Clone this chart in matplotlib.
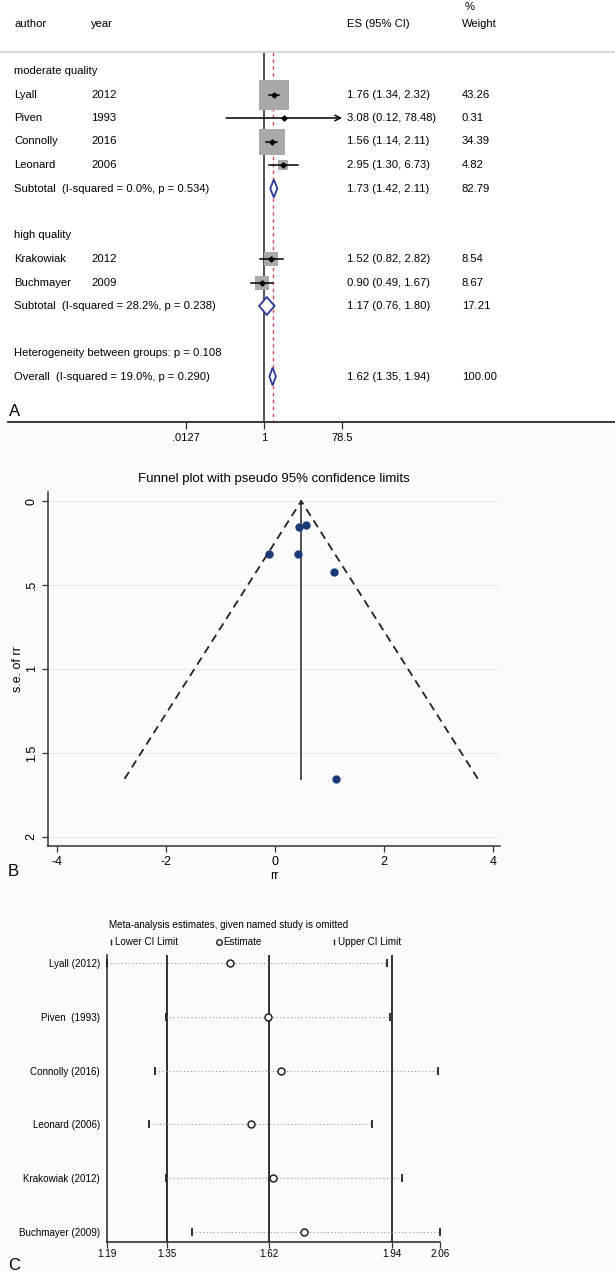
import numpy as np
import matplotlib
matplotlib.use("Agg")
import matplotlib.pyplot as plt
from matplotlib.patches import Polygon
from matplotlib.lines import Line2D
from matplotlib import font_manager

# ---- data: forest plot (A) ----
authors = ["Lyall", "Piven", "Connolly", "Leonard", "Krakowiak", "Buchmayer"]
years = [2012, 1993, 2016, 2006, 2012, 2009]
es = [1.76, 3.08, 1.56, 2.95, 1.52, 0.90]
ci_lo = [1.34, 0.12, 1.14, 1.30, 0.82, 0.49]
ci_hi = [2.32, 78.48, 2.11, 6.73, 2.82, 1.67]
weights = [43.26, 0.31, 34.39, 4.82, 8.54, 8.67]
study_group = [0, 0, 0, 0, 1, 1]

group_names = ["moderate quality", "high quality"]
sub_es = [1.73, 1.17]
sub_lo = [1.42, 0.76]
sub_hi = [2.11, 1.80]
sub_wt = [82.79, 17.21]
sub_i2 = ["0.0%", "28.2%"]
sub_p = ["0.534", "0.238"]

overall_es, overall_lo, overall_hi = 1.62, 1.35, 1.94
overall_i2, overall_p, het_p = "19.0%", "0.290", "0.108"
forest_ticks = [0.0127, 1, 78.5]
forest_ticklabels = [".0127", "1", "78.5"]

# ---- data: funnel plot (B), log rr and s.e. ----
funnel_rr = [0.565, 1.125, 0.445, 1.082, 0.419, -0.105]
funnel_se = [0.140, 1.654, 0.157, 0.420, 0.315, 0.313]
funnel_center = 0.482

# ---- data: leave-one-out (C) ----
omit_labels = ["Lyall (2012)", "Piven  (1993)", "Connolly (2016)",
               "Leonard (2006)", "Krakowiak (2012)", "Buchmayer (2009)"]
omit_est = [1.515, 1.613, 1.646, 1.568, 1.626, 1.708]
omit_lo = [1.192, 1.346, 1.317, 1.303, 1.346, 1.414]
omit_hi = [1.925, 1.933, 2.057, 1.886, 1.963, 2.063]
loo_lo, loo_est, loo_hi = 1.349, 1.616, 1.937

W, H = 615, 1272
bg = "#fbfcfd"
plt.rcParams["font.family"] = ["Liberation Sans", "DejaVu Sans"]
names = {f.name for f in font_manager.fontManager.ttflist}
narrow = "Liberation Sans Narrow" if "Liberation Sans Narrow" in names else "Liberation Sans"
cfs = 8 if narrow == "Liberation Sans Narrow" else 7.1   # panel C text size

fig = plt.figure(figsize=(W / 100, H / 100), dpi=100, facecolor=bg)


def fx(px):
    return px / W


def fy(py):
    return 1 - py / H


# =================== A: forest plot ===================
axA = fig.add_axes([0, fy(422), 1, 422 / H])
axA.set_facecolor("white")
row0, rowh = 47.5, 23.5          # pixel y of row 0, pixel row height
x0, xscale = 264, 17.9           # pixel x of ES=1, pixels per ln unit
axA.set_xlim(-x0 / xscale, (W - x0) / xscale)
axA.set_ylim((422 - row0) / rowh, (0 - row0) / rowh)
for s in ["top", "left", "right"]:
    axA.spines[s].set_visible(False)
axA.spines["bottom"].set_color("#2a2a2a")
axA.spines["bottom"].set_linewidth(1.3)
axA.spines["bottom"].set_bounds(-(x0 - 8) / xscale, (W - x0) / xscale)
axA.set_yticks([])
axA.set_xticks(np.log(forest_ticks))
axA.set_xticklabels(forest_ticklabels, fontsize=8)
axA.tick_params(axis="x", length=5, width=0.9, pad=3, color="#2a2a2a")

tr = axA.get_yaxis_transform()
fs = 8.1
line_row = (52 - row0) / rowh
axA.axhline(line_row, color="#c9d5dd", lw=1.2)
ybot = (422 - row0) / rowh
axA.vlines(0, line_row, ybot, color="#222222", lw=1.1, zorder=1)
axA.vlines(np.log(overall_es), line_row, ybot, color="#d9485a", lw=1.0,
           linestyles=(0, (2.5, 2.5)), zorder=1)

# header
axA.text(fx(14), -1, "author", transform=tr, fontsize=fs, va="center")
axA.text(fx(91), -1, "year", transform=tr, fontsize=fs, va="center")
axA.text(fx(347), -1, "ES (95% CI)", transform=tr, fontsize=fs, va="center")
axA.text(fx(462), -1, "Weight", transform=tr, fontsize=fs, va="center")
axA.text(fx(465), -1.72, "%", transform=tr, fontsize=fs, va="center")


def diamond(ax, e, l, h, r):
    pts = [(np.log(l), r), (np.log(e), r - 0.38), (np.log(h), r), (np.log(e), r + 0.38)]
    ax.add_patch(Polygon(pts, closed=True, facecolor="white", edgecolor="#2b3a9a",
                         lw=1.3, zorder=4))


row = 1
for g in range(len(group_names)):
    axA.text(fx(14), row, group_names[g], transform=tr, fontsize=fs, va="center")
    row += 1
    for i in [k for k in range(len(authors)) if study_group[k] == g]:
        side = 4.6 * np.sqrt(weights[i]) * 0.72
        axA.scatter(np.log(es[i]), row, marker="s", s=side ** 2, color="#a9a9a9",
                    linewidths=0, zorder=2)
        lo, hi = np.log(ci_lo[i]), np.log(ci_hi[i])
        if ci_hi[i] >= forest_ticks[-1] * 0.99:
            axA.annotate("", xy=(hi, row), xytext=(lo, row),
                         arrowprops=dict(arrowstyle="->", lw=1.1, color="black",
                                         shrinkA=0, shrinkB=0), zorder=3)
        else:
            axA.plot([lo, hi], [row, row], color="black", lw=1.1, zorder=3)
        axA.plot(np.log(es[i]), row, marker="D", ms=2.6, color="black", zorder=3)
        axA.text(fx(14), row, authors[i], transform=tr, fontsize=fs, va="center")
        axA.text(fx(91), row, str(years[i]), transform=tr, fontsize=fs, va="center")
        axA.text(fx(347), row, f"{es[i]:.2f} ({ci_lo[i]:.2f}, {ci_hi[i]:.2f})",
                 transform=tr, fontsize=fs, va="center")
        axA.text(fx(462), row, f"{weights[i]:.2f}", transform=tr, fontsize=fs, va="center")
        row += 1
    diamond(axA, sub_es[g], sub_lo[g], sub_hi[g], row)
    axA.text(fx(14), row, f"Subtotal  (I-squared = {sub_i2[g]}, p = {sub_p[g]})",
             transform=tr, fontsize=fs, va="center")
    axA.text(fx(347), row, f"{sub_es[g]:.2f} ({sub_lo[g]:.2f}, {sub_hi[g]:.2f})",
             transform=tr, fontsize=fs, va="center")
    axA.text(fx(462), row, f"{sub_wt[g]:.2f}", transform=tr, fontsize=fs, va="center")
    row += 2

axA.text(fx(14), row, f"Heterogeneity between groups: p = {het_p}", transform=tr,
         fontsize=fs, va="center")
row += 1
diamond(axA, overall_es, overall_lo, overall_hi, row)
axA.text(fx(14), row, f"Overall  (I-squared = {overall_i2}, p = {overall_p})",
         transform=tr, fontsize=fs, va="center")
axA.text(fx(347), row, f"{overall_es:.2f} ({overall_lo:.2f}, {overall_hi:.2f})",
         transform=tr, fontsize=fs, va="center")
axA.text(fx(462), row, "100.00", transform=tr, fontsize=fs, va="center")
fig.text(fx(9), fy(412), "A", fontsize=12, va="center")

# =================== B: funnel plot ===================
axB = fig.add_axes([fx(48), fy(846), 452 / W, 354 / H])
axB.set_facecolor(bg)
axB.set_xlim(-4.165, 4.13)
axB.set_ylim(2.054, -0.054)
for s in ["top", "right"]:
    axB.spines[s].set_visible(False)
for s in ["left", "bottom"]:
    axB.spines[s].set_color("#333333")
    axB.spines[s].set_linewidth(1.1)
axB.set_yticks([0, 0.5, 1, 1.5, 2])
axB.set_yticklabels(["0", ".5", "1", "1.5", "2"], rotation=90, va="center", fontsize=9)
axB.set_xticks([-4, -2, 0, 2, 4])
axB.set_xticklabels(["-4", "-2", "0", "2", "4"], fontsize=9)
axB.tick_params(length=4, width=0.9, color="#333333")
axB.grid(axis="y", color="#e4edf2", lw=0.8)
axB.set_axisbelow(True)

se_max = max(funnel_se)
axB.plot([funnel_center, funnel_center], [0, se_max], color="#333333", lw=1.2)
axB.plot([funnel_center - 1.96 * se_max, funnel_center, funnel_center + 1.96 * se_max],
         [se_max, 0, se_max], color="#222222", lw=1.3, linestyle=(0, (4.5, 3)))
axB.scatter(funnel_rr, funnel_se, s=36, color="#1d3a78", zorder=3, linewidths=0)
axB.set_ylabel("s.e. of rr", fontsize=9, labelpad=1)
axB.set_xlabel("rr", fontsize=9, labelpad=1)
fig.text(fx(274), fy(479), "Funnel plot with pseudo 95% confidence limits",
         fontsize=9.5, ha="center", va="center")
fig.text(fx(8), fy(872), "B", fontsize=12, va="center")

# =================== C: influence analysis ===================
axC = fig.add_axes([fx(107), fy(1242), 333 / W, 287 / H])
axC.set_facecolor(bg)
n = len(omit_labels)
rows = np.arange(n)
axC.set_xlim(min(omit_lo), max(omit_hi))
axC.set_ylim(n - 1 + 10 / 53.8, -8 / 53.8)
for s in ["top", "right"]:
    axC.spines[s].set_visible(False)
for s in ["left", "bottom"]:
    axC.spines[s].set_color("#333333")
    axC.spines[s].set_linewidth(1.2)
for v in [loo_lo, loo_est, loo_hi]:
    axC.axvline(v, color="#222222", lw=1.3)
for i in rows:
    axC.plot([omit_lo[i], omit_hi[i]], [i, i], color="#8a9aa8", lw=0.8,
             linestyle=(0, (1, 2.2)), zorder=2)
axC.plot(omit_lo, rows, "|", color="#222222", ms=6, mew=1.3, clip_on=False, zorder=3)
axC.plot(omit_hi, rows, "|", color="#222222", ms=6, mew=1.3, clip_on=False, zorder=3)
axC.plot(omit_est, rows, "o", mfc="white", mec="#222222", ms=5, mew=1.1, zorder=4)
axC.set_yticks(rows)
axC.set_yticklabels(omit_labels, fontsize=cfs, family=narrow)
axC.tick_params(axis="y", length=0, pad=5)
xt = [min(omit_lo), loo_lo, loo_est, loo_hi, max(omit_hi)]
axC.set_xticks(xt)
axC.set_xticklabels([f"{v:.2f}" for v in xt], fontsize=cfs, family=narrow)
axC.tick_params(axis="x", length=4, width=0.9, pad=1, color="#333333")

fig.text(fx(109), fy(925), "Meta-analysis estimates, given named study is omitted",
         fontsize=cfs, family=narrow, va="center")
legend_items = [(109, "|", "Lower CI Limit"), (217, "o", "Estimate"), (332, "|", "Upper CI Limit")]
for px, mk, lab in legend_items:
    fig.add_artist(Line2D([fx(px + 2)], [fy(942)], marker=mk, color="#222222",
                          mfc="white", ms=4 if mk == "o" else 5, mew=1.0,
                          transform=fig.transFigure))
    fig.text(fx(px + 6), fy(942), lab, fontsize=cfs, family=narrow, va="center")
fig.text(fx(8), fy(1265), "C", fontsize=12, va="center")

fig.savefig("out.png", dpi=100, facecolor=bg)
